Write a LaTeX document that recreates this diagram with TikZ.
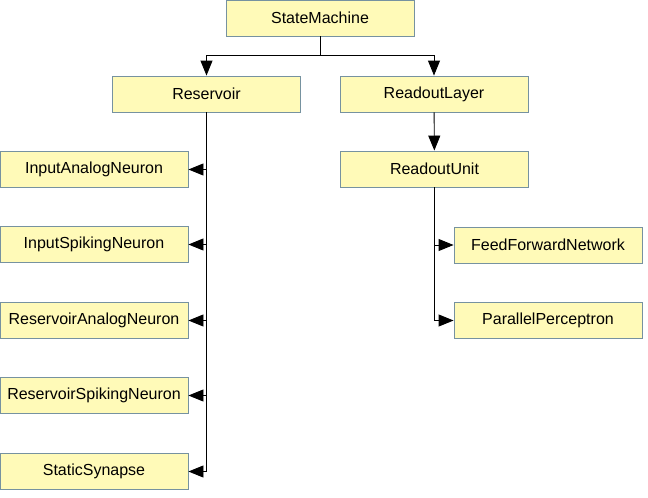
\documentclass[tikz,border=0pt]{standalone}
\usepackage{fontspec}
\setmainfont{Liberation Sans}
\usepackage{xcolor}
\usetikzlibrary{positioning,arrows.meta}
\definecolor{clsFill}{RGB}{255,250,184}
\definecolor{clsLine}{RGB}{118,146,160}

\begin{document}
\begin{tikzpicture}[
    x=1pt, y=1pt,
    cls/.style={%
      draw=clsLine,
      fill=clsFill,
      rectangle,
      line width=0.9pt,
      minimum width=188pt,
      minimum height=36pt,
      inner sep=0pt,
      font=\fontsize{16}{19}\selectfont,
    },
    arr/.style={%
      draw=black,
      line width=0.9pt,
      -{Triangle[length=15pt,width=12pt]},
    },
  ]
    \useasboundingbox (0,0) rectangle (648,-498);

    \node [cls] (SM) at (320,-18) {StateMachine};
    \path (SM) ++(-113.5,-76) node [cls] (Res) {Reservoir};
    \path (SM) ++(114,-76) node [cls] (RL) {ReadoutLayer};
    \path (RL) ++(0.5,-75) node [cls] (RU) {ReadoutUnit};
    \path (Res) ++(-112.5,-75.5) node [cls] (IAN) {InputAnalogNeuron};
    \path (IAN) ++(0,-75) node [cls] (ISN) {InputSpikingNeuron};
    \path (ISN) ++(0,-76) node [cls] (RAN) {ReservoirAnalogNeuron};
    \path (RAN) ++(0,-75) node [cls] (RSN) {ReservoirSpikingNeuron};
    \path (RSN) ++(0,-76) node [cls] (SS) {StaticSynapse};
    \path (RU) ++(113.5,-76) node [cls] (FFN) {FeedForwardNetwork};
    \path (FFN) ++(0,-75.5) node [cls] (PP) {ParallelPerceptron};

    \draw [arr] (SM.south) -- ++(0,-19) -| (Res);
    \draw [arr] (SM.south) -- ++(0,-19) -| (RL);
    \draw [arr] (RL) -- (RU);
    \draw [arr] (Res.south) |- (IAN);
    \draw [arr] (Res.south) |- (ISN);
    \draw [arr] (Res.south) |- (RAN);
    \draw [arr] (Res.south) |- (RSN);
    \draw [arr] (Res.south) |- (SS);
    \draw [arr] (RU.south) |- (FFN);
    \draw [arr] (RU.south) |- (PP);
\end{tikzpicture}
\end{document}
